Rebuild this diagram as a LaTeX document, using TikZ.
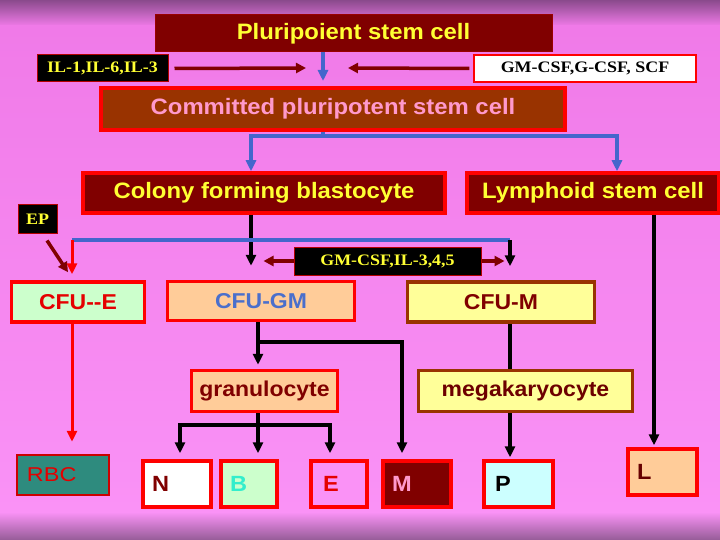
\documentclass[tikz,border=0pt]{standalone}
\usepackage{fontspec}
\setmainfont{Liberation Sans}
\newfontfamily\slidefont[FakeStretch=1.07]{Liberation Sans}
\newfontfamily\rbcfont[FakeStretch=1.17]{Liberation Sans}
\newfontfamily\factorfont[FakeStretch=1.12]{Liberation Serif}
\usetikzlibrary{arrows.meta}
\definecolor{bgtop}{HTML}{8A4A8C}
\definecolor{bgpink}{HTML}{F07AE8}
\definecolor{bgpinklow}{HTML}{FA92F6}
\definecolor{maroon}{HTML}{800000}
\definecolor{brick}{HTML}{993300}
\definecolor{boxred}{HTML}{FF0000}
\definecolor{txtyellow}{HTML}{FFFF33}
\definecolor{txtpink}{HTML}{FF99CC}
\definecolor{linkblue}{HTML}{4466CC}
\definecolor{mint}{HTML}{CCFFCC}
\definecolor{peach}{HTML}{FFCC99}
\definecolor{paleyellow}{HTML}{FFFF99}
\definecolor{palecyan}{HTML}{CCFFFF}
\definecolor{rbcteal}{HTML}{2E8B7E}
\definecolor{aqua}{HTML}{33EECC}
\definecolor{cfublue}{HTML}{4A6FCC}

\tikzset{
  cellbox/.style={draw=boxred, line width=3.5pt, inner sep=0pt,
    font=\slidefont\bfseries\fontsize{21.5}{25}\selectfont},
  stembox/.style={cellbox, fill=maroon, text=txtyellow,
    font=\slidefont\bfseries\fontsize{22.3}{27}\selectfont},
  factorbox/.style={draw=maroon!60!red, line width=1pt, fill=black, text=txtyellow,
    inner sep=0pt, font=\factorfont\bfseries\fontsize{16}{18}\selectfont},
  letterbox/.style={cellbox, inner xsep=9pt, align=left, text width=#1,
    font=\slidefont\bfseries\fontsize{22}{24}\selectfont},
  blueline/.style={draw=linkblue, line width=3.5pt},
  bluearrow/.style={blueline, -{Triangle[length=11pt,width=10pt]}},
  blackline/.style={draw=black, line width=3.3pt},
  blackarrow/.style={blackline, -{Triangle[length=11pt,width=10pt]}},
  redarrow/.style={draw=boxred, line width=3pt, -{Triangle[length=11pt,width=10pt]}},
  factorarrow/.style={draw=maroon, line width=3.5pt, -{Triangle[length=10pt,width=10pt]}},
}

\begin{document}
\begin{tikzpicture}[x=1pt, y=-1pt]
  \useasboundingbox (0, 0) rectangle (720, 540);
  \shade [top color=bgtop, bottom color=bgpink] (0, 0) rectangle (720, 26);
  \shade [top color=bgpink, bottom color=bgpinklow] (0, 26) rectangle (720, 512);
  \shade [top color=bgpinklow, bottom color=bgtop!90!white] (0, 512) rectangle (720, 540);

  % stem cells
  \node (plsc) at (353.5, 33.5) [stembox, draw=maroon!80!red, line width=1pt,
    minimum width=397, minimum height=37] {Pluripoient stem cell};
  \node (ilbox) at (102.5, 68.5) [factorbox, minimum width=131, minimum height=27] {IL-1,IL-6,IL-3};
  \node (gmbox) at (585, 68.5) [factorbox, fill=white, text=black, draw=boxred, line width=1.2pt,
    minimum width=222, minimum height=27] {GM-CSF,G-CSF, SCF};
  \node (cpsc) at (333, 109) [stembox, fill=brick, text=txtpink, line width=4pt,
    minimum width=464, minimum height=42] {Committed pluripotent stem cell};
  \node (cfb) at (264, 193) [stembox, minimum width=362, minimum height=40] {Colony forming blastocyte};
  \node (lsc) at (593, 193) [stembox, minimum width=252, minimum height=40] {Lymphoid stem cell};
  \node (ep) at (37.5, 219) [factorbox, minimum width=39, minimum height=28] {EP};
  \node (gmil) at (387.5, 261) [factorbox, minimum width=187, minimum height=28] {GM-CSF,IL-3,4,5};

  % progenitors
  \node (cfue) at (78, 302) [cellbox, fill=mint, text=red!90!black,
    minimum width=133, minimum height=40] {CFU--E};
  \node (cfugm) at (261, 301) [cellbox, fill=peach, text=cfublue,
    minimum width=187, minimum height=39] {CFU-GM};
  \node (cfum) at (501, 302) [cellbox, fill=paleyellow, draw=brick, text=maroon,
    minimum width=187, minimum height=40] {CFU-M};
  \node (gran) at (264.5, 391) [cellbox, fill=peach, text=maroon,
    minimum width=146, minimum height=41] {granulocyte};
  \node (mega) at (525.5, 391) [cellbox, fill=paleyellow, draw=brick, text=maroon!85!black,
    minimum width=214, minimum height=41] {megakaryocyte};

  % mature cells
  \node (rbc) at (63, 475) [cellbox, fill=rbcteal, draw=red!80!black, line width=2.5pt, text=red!90!black,
    inner xsep=10pt, text width=72, align=left, minimum height=40,
    font=\rbcfont\fontsize{20}{24}\selectfont] {RBC};
  \node (ncell) at (177, 484) [letterbox=50, fill=white, text=maroon, minimum height=46] {N};
  \node (bcell) at (249, 484) [letterbox=38, fill=mint, text=aqua, minimum height=46] {B};
  \node (ecell) at (339, 484) [letterbox=38, fill=bgpinklow, text=red!90!black, inner xsep=12pt, text width=32, minimum height=46] {E};
  \node (mcell) at (417, 484) [letterbox=50, fill=maroon, text=txtpink, minimum height=46] {M};
  \node (pcell) at (518.5, 484) [letterbox=51, fill=palecyan, text=black, inner xsep=11pt, text width=47, minimum height=46] {P};
  \node (lcell) at (662.5, 472) [letterbox=51, fill=peach, text=maroon!80!black, minimum height=46] {L};

  % branch points
  \coordinate (ilend) at (306, 68);
  \coordinate (gmend) at (348, 68);
  \coordinate (mainx) at (323, 136);
  \coordinate (cfbin) at (251, 136);
  \coordinate (lscin) at (617, 136);
  \coordinate (ebus) at (72, 240);
  \coordinate (mbus) at (510, 240);
  \coordinate (lx) at (654, 213);
  \coordinate (gx) at (258, 342);
  \coordinate (mx) at (402, 342);
  \coordinate (nbus) at (258, 425);
  \coordinate (nx) at (180, 425);
  \coordinate (ex) at (330, 425);

  % factors
  \draw [factorarrow] ([xshift=6pt]ilbox.east) -- (ilend);
  \draw [factorarrow] ([xshift=-4pt]gmbox.west) -- (gmend);
  \draw [factorarrow] (gmil.west) -- ++(-30, 0);
  \draw [factorarrow] (gmil.east) -- ++(23, 0);
  \draw [factorarrow] ([xshift=9.5pt, yshift=-7pt]ep.south) -- ([xshift=-4pt, yshift=8pt]ebus |- cfue.north);

  % lineage
  \draw [bluearrow, shorten >=5pt] (plsc.south -| mainx) -- (mainx |- cpsc.north);
  \draw [blueline] (cpsc.south -| mainx) -- (mainx);
  \draw [bluearrow] (mainx) -| (cfbin |- cfb.north);
  \draw [bluearrow] (mainx) -| (lscin |- lsc.north);

  \draw [blackarrow, shorten >=14pt] (cfbin |- cfb.south) -- (cfbin |- cfugm.north);
  \draw [blueline] (ebus) -- (mbus);
  \draw [redarrow, shorten >=6pt] (ebus) -- (ebus |- cfue.north);
  \draw [blackarrow, shorten >=14pt] (mbus) -- (mbus |- cfum.north);
  \draw [blackarrow, shorten >=2pt] (lx |- lsc.south) -- (lx |- lcell.north);

  \draw [redarrow, shorten >=12pt] (ebus |- cfue.south) -- (ebus |- rbc.north);
  \draw [blackarrow, shorten >=4pt] (gx |- cfugm.south) -- (gx |- gran.north);
  \draw [blackarrow, shorten >=6pt] (gx) -| (mx |- mcell.north);
  \draw [blackline] (mbus |- cfum.south) -- (mbus |- mega.north);
  \draw [blackarrow, shorten >=2pt] (mbus |- mega.south) -- (mbus |- pcell.north);

  \draw [blackline] (gx |- gran.south) -- (nbus);
  \draw [blackarrow, shorten >=6pt] (nbus) -| (nx |- ncell.north);
  \draw [blackarrow, shorten >=6pt] (nbus) -| (ex |- ecell.north);
  \draw [blackarrow, shorten >=6pt] (nbus) -- (nbus |- bcell.north);
\end{tikzpicture}
\end{document}
